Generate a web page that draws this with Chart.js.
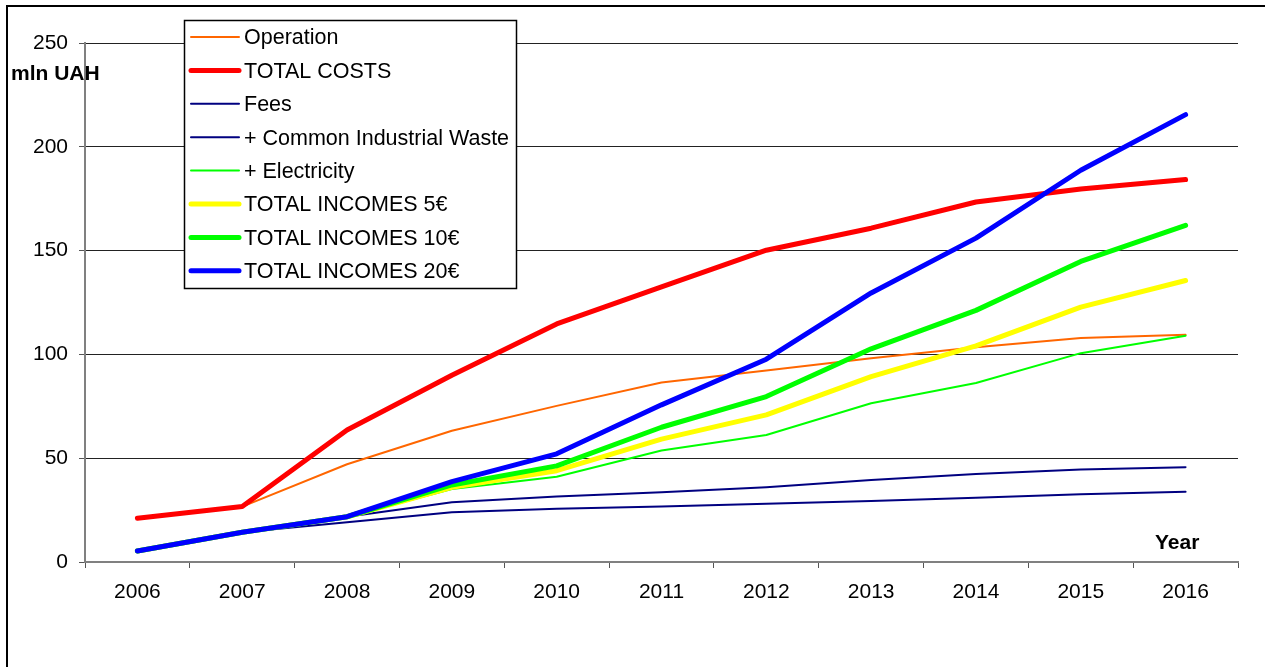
<!DOCTYPE html>
<html>
<head>
<meta charset="utf-8">
<script src="https://cdn.jsdelivr.net/npm/chart.js@4.4.1/dist/chart.umd.min.js"></script>
<style>
  html, body { margin: 0; padding: 0; background: #fff; }
  #wrap { width: 1265px; height: 667px; }
</style>
</head>
<body>
<div id="wrap"><canvas id="cost_chart" width="1265" height="667"></canvas></div>
<script>
// costs and incomes, mln UAH per year
const years = ["2006", "2007", "2008", "2009", "2010", "2011", "2012", "2013", "2014", "2015", "2016"];
const operation   = [21.1, 26.7, 47.1, 63.2, 75.2, 86.5, 92.2, 98.2, 103.5, 107.9, 109.5];
const totalCosts  = [21.1, 26.7, 63.6, 90.0, 114.7, 132.5, 150.2, 160.8, 173.4, 179.7, 184.2];
const fees        = [5.3, 14.3, 19.1, 24.0, 25.6, 26.7, 28.0, 29.4, 31.0, 32.6, 33.8];
const industrial  = [5.3, 14.3, 21.8, 28.8, 31.5, 33.6, 36.0, 39.5, 42.4, 44.5, 45.7];
const electricity = [5.3, 14.3, 21.8, 35.2, 41.1, 53.7, 61.2, 76.5, 86.2, 100.6, 109.0];
const incomes5    = [5.3, 14.3, 21.8, 36.0, 44.0, 59.2, 70.9, 89.3, 104.1, 122.8, 135.6];
const incomes10   = [5.3, 14.3, 21.8, 37.1, 46.3, 64.9, 79.7, 102.7, 121.2, 144.8, 162.2];
const incomes20   = [5.3, 14.3, 21.8, 38.7, 52.1, 75.7, 97.7, 129.6, 156.0, 188.7, 215.5];
const yTicks = [0, 50, 100, 150, 200, 250];

const FONT = "'Liberation Sans', Arial, sans-serif";

function line(label, data, color, width) {
    return {
        label: label,
        data: data,
        borderColor: color,
        backgroundColor: color,
        borderWidth: width,
        borderCapStyle: 'round',
        borderJoinStyle: 'round',
        pointRadius: 0,
        tension: 0,
        fill: false
    };
}

const datasets = [
    line("Operation", operation, "#FF6600", 2),
    line("TOTAL COSTS", totalCosts, "#FF0000", 5),
    line("Fees", fees, "#000080", 2),
    line("+ Common Industrial Waste", industrial, "#000080", 2),
    line("+ Electricity", electricity, "#00FF00", 2),
    line("TOTAL INCOMES 5€", incomes5, "#FFFF00", 5),
    line("TOTAL INCOMES 10€", incomes10, "#00FF00", 5),
    line("TOTAL INCOMES 20€", incomes20, "#0000FF", 5)
];
// later series sit on top
datasets.forEach((ds, i) => { ds.order = datasets.length - 1 - i; });

// frame, axis captions and the boxed legend
const decorations = {
    id: 'decorations',
    afterDraw(chart) {
        const ctx = chart.ctx;
        ctx.save();
        ctx.strokeStyle = '#000';
        ctx.lineWidth = 2;
        ctx.strokeRect(7, 6, 1300, 700);

        ctx.fillStyle = '#000';
        ctx.font = 'bold 21px ' + FONT;
        ctx.textBaseline = 'middle';
        ctx.textAlign = 'left';
        ctx.fillText('mln UAH', 11, 74);
        ctx.fillText('Year', 1155, 543);

        ctx.fillStyle = '#fff';
        ctx.fillRect(184, 20, 333, 269);
        ctx.strokeStyle = '#000';
        ctx.lineWidth = 1.5;
        ctx.strokeRect(184.5, 20.5, 332, 268);

        chart.data.datasets.forEach((ds, i) => {
            const y = 37 + i * 33.4;
            ctx.beginPath();
            ctx.lineCap = 'round';
            ctx.strokeStyle = ds.borderColor;
            ctx.lineWidth = ds.borderWidth;
            ctx.moveTo(191, y);
            ctx.lineTo(239, y);
            ctx.stroke();
            ctx.fillStyle = '#000';
            ctx.font = '21.5px ' + FONT;
            ctx.fillText(ds.label, 244, y + 1.5);
        });
        ctx.restore();
    }
};

const ctx = document.getElementById("cost_chart");
const cost_chart = new Chart(ctx, {
    type: 'line',
    data: {
        labels: years,
        datasets: datasets
    },
    options: {
        responsive: false,
        animation: false,
        layout: {
            padding: { top: 43, right: 27, bottom: 0, left: 0 }
        },
        plugins: {
            legend: { display: false },
            tooltip: { enabled: false }
        },
        scales: {
            x: {
                offset: true,
                afterFit(scale) { scale.height = 105; },
                grid: {
                    offset: true,
                    drawOnChartArea: false,
                    tickLength: 6,
                    color: '#555',
                    lineWidth: 1
                },
                border: { color: '#808080', width: 2 },
                ticks: {
                    color: '#000',
                    padding: 12,
                    maxRotation: 0,
                    font: { family: FONT, size: 21 }
                }
            },
            y: {
                min: 0,
                max: 250,
                afterFit(scale) { scale.width = 85; },
                afterBuildTicks(scale) { scale.ticks = yTicks.map(v => ({ value: v })); },
                grid: {
                    color: '#222',
                    lineWidth: 1,
                    tickLength: 6,
                    tickColor: '#555'
                },
                border: { color: '#808080', width: 2 },
                ticks: {
                    color: '#000',
                    padding: 11,
                    font: { family: FONT, size: 21 }
                }
            }
        }
    },
    plugins: [decorations]
});
</script>
</body>
</html>
